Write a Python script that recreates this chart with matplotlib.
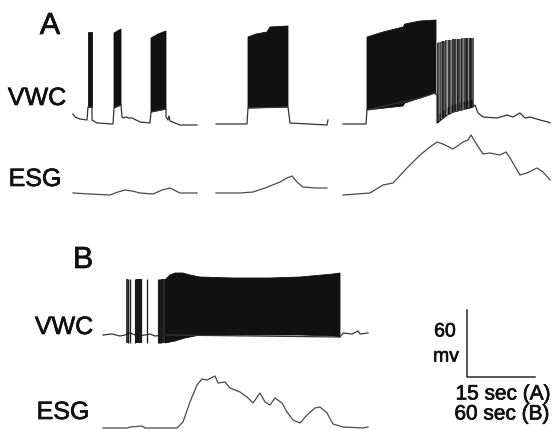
import numpy as np
import matplotlib
matplotlib.use("Agg")
from matplotlib import pyplot as plt
import matplotlib.patheffects as pe

plt.rcParams['font.family'] = ['Liberation Sans', 'DejaVu Sans']

# ---------------------------------------------------------------------------
# traces, in picture units (x to the right, y downwards)
# ---------------------------------------------------------------------------

# panel A, VWC baseline, three pieces
vwc_a1 = [(73, 114), (75, 117), (80, 119), (87, 120), (88, 107), (92, 107), (92, 120),
          (97, 123), (113, 124), (114, 108), (121, 105), (122, 117), (123, 118),
          (126, 117), (129, 118), (132, 118), (140, 122), (150, 123), (151, 112),
          (166, 109), (166, 117), (168, 120), (169, 116), (170, 121), (180, 125),
          (197, 125)]
vwc_a2 = [(216, 124), (247, 124), (248, 108), (288, 107), (290, 123), (327, 125), (328, 120)]
vwc_a3 = [(343, 124), (366, 124), (367, 110), (420, 98), (435, 93), (437, 95),
          (437, 123), (447, 115), (453, 112), (473, 107), (475, 105), (478, 113),
          (483, 117), (497, 118), (507, 115), (513, 117), (520, 113), (525, 118),
          (530, 117), (540, 120), (548, 122), (550, 123)]

# dense bursts of panel A: (top envelope, bottom envelope)
burst_a1_top = [(88, 32), (92, 32)]
burst_a1_bot = [(88, 107), (92, 107)]
burst_a2_top = [(114, 33), (121, 29)]
burst_a2_bot = [(114, 108), (121, 105)]
burst_a3_top = [(151, 38), (158, 34), (166, 31)]
burst_a3_bot = [(151, 112), (166, 109)]
burst_a4_top = [(248, 37), (256, 34), (267, 32), (270, 27), (288, 26)]
burst_a4_bot = [(248, 108), (288, 107)]
burst_a5_top = [(367, 37), (383, 32), (403, 27), (405, 24), (420, 21), (436, 20)]
burst_a5_bot = [(367, 110), (403, 106), (405, 103), (420, 98), (435, 93), (436, 95)]

# sparse burst at the end of the third sweep
sparse_x = [437.5, 439, 440.5, 442, 443, 444.5, 446, 447, 448.5, 450, 451, 452.5,
            454, 455, 456.5, 458, 459, 460.5, 462, 463, 464.5, 466, 467, 468.5,
            470, 471, 472.5]
sparse_top = [43, 42, 42, 41, 41, 41, 40, 40, 40, 40, 40, 39, 39, 39, 39, 39, 39,
              39, 38, 38, 38, 38, 38, 38, 38, 38, 38]
sparse_grey = ['#111', '#555', '#222', '#777', '#111', '#444', '#222', '#888', '#111',
               '#333', '#666', '#111', '#444', '#222', '#777', '#111', '#333', '#555',
               '#111', '#666', '#222', '#444', '#111', '#777', '#222', '#111', '#333']

# panel A, ESG
esg_a1 = [(73, 193), (90, 194), (110, 195), (118, 192), (125, 190), (132, 191),
          (140, 193), (153, 194), (162, 190), (170, 188), (176, 191), (180, 193),
          (197, 193)]
esg_a2 = [(216, 193), (240, 193), (253, 192), (265, 188), (280, 182), (287, 178),
          (292, 176), (297, 182), (303, 187), (315, 188), (327, 188)]
esg_a3 = [(343, 195), (370, 193), (383, 185), (393, 183), (407, 168), (420, 155),
          (430, 147), (437, 142), (443, 144), (453, 149), (463, 142), (468, 140),
          (471, 135), (477, 145), (483, 154), (490, 153), (500, 155), (506, 152),
          (510, 158), (520, 175), (527, 173), (537, 168), (543, 172), (550, 180)]

# panel B, VWC
vwc_b = [(103, 335), (112, 334), (120, 336), (125, 335), (130, 333), (138, 336),
         (145, 335), (150, 334), (155, 336), (165, 335), (340, 337), (343, 333),
         (352, 334), (358, 331), (360, 334), (368, 333)]
spikes_b_x = [127, 128, 130, 135, 137, 139, 140, 141, 147, 158, 159, 160, 161, 162, 163, 164]
spikes_b_lw = [1.2, 1.0, 1.0, 0.8, 1.6, 1.6, 1.6, 1.6, 0.9, 0.8, 0.9, 1.0, 1.0, 1.2, 1.2, 1.2]
burst_b_top = [(165, 280), (170, 275), (175, 273), (183, 273), (190, 275), (200, 277),
               (233, 278), (270, 278), (300, 277), (333, 274), (340, 273)]
burst_b_bot = [(165, 343), (175, 341), (185, 338), (200, 335), (300, 335),
               (333, 336), (340, 337)]

# panel B, ESG
esg_b = [(103, 428), (127, 428), (130, 427), (142, 426), (145, 428), (177, 428),
         (183, 422), (190, 402), (197, 385), (202, 379), (207, 380), (215, 376),
         (218, 383), (225, 382), (230, 388), (240, 392), (247, 397), (253, 403),
         (260, 393), (265, 402), (270, 405), (275, 398), (282, 403), (287, 412),
         (293, 420), (300, 423), (307, 415), (315, 408), (320, 407), (327, 413),
         (333, 424), (343, 427), (363, 428), (368, 427)]

labels = [("A", 50, 26, 22), ("VWC", 37, 98, 18), ("ESG", 35, 179, 18),
          ("B", 83, 260, 22), ("VWC", 64, 327, 18), ("ESG", 63, 412, 18)]
scale_texts = [("60", 445, 332, 14), ("mv", 446, 357, 14),
               ("15 sec (A)", 503, 394, 15), ("60 sec (B)", 502, 414, 15)]


def xy(pts):
    a = np.array(pts, dtype=float)
    return a[:, 0], a[:, 1]


def fill_burst(ax, top, bot, color='#111111'):
    xt, yt = xy(top)
    xb, yb = xy(bot)
    px = np.concatenate([xt, xb[::-1]])
    py = np.concatenate([yt, yb[::-1]])
    ax.fill(px, py, color=color, lw=0.6, ec=color)


fig = plt.figure(figsize=(5.53, 4.37), dpi=100)
ax = fig.add_axes([0, 0, 1, 1])
ax.set_xlim(0, 553)
ax.set_ylim(437, 0)
ax.axis('off')

trace_kw = dict(color='#333333', lw=0.9)
esg_kw = dict(color='#4a4a4a', lw=0.9)

for tr in (vwc_a1, vwc_a2, vwc_a3, vwc_b):
    ax.plot(*xy(tr), **trace_kw)
for tr in (esg_a1, esg_a2, esg_a3, esg_b):
    ax.plot(*xy(tr), **esg_kw)

for top, bot in [(burst_a1_top, burst_a1_bot), (burst_a2_top, burst_a2_bot),
                 (burst_a3_top, burst_a3_bot), (burst_a4_top, burst_a4_bot),
                 (burst_a5_top, burst_a5_bot), (burst_b_top, burst_b_bot)]:
    fill_burst(ax, top, bot)

# sparse spikes ride on the recovering baseline
bx, by = xy(vwc_a3)
sparse_base = np.interp(sparse_x, bx[6:], by[6:])
ax.vlines(sparse_x, sparse_top, sparse_base, colors=sparse_grey, lw=1.2)
ax.fill_between(sparse_x, sparse_base - 8, sparse_base, color='#1a1a1a', lw=0)

ax.vlines(spikes_b_x, 279, 343, color='#1a1a1a', lw=spikes_b_lw)

# scale bar
ax.plot([467, 467, 535], [310, 377, 377], color='#2a2a2a', lw=1.1)

stroke = [pe.withStroke(linewidth=0.5, foreground='#111111')]
for txt, x, y, fs in labels + scale_texts:
    ax.text(x, y, txt, ha='center', va='center', fontsize=fs, color='#111111',
            path_effects=stroke)

fig.savefig('out.png', dpi=100)
